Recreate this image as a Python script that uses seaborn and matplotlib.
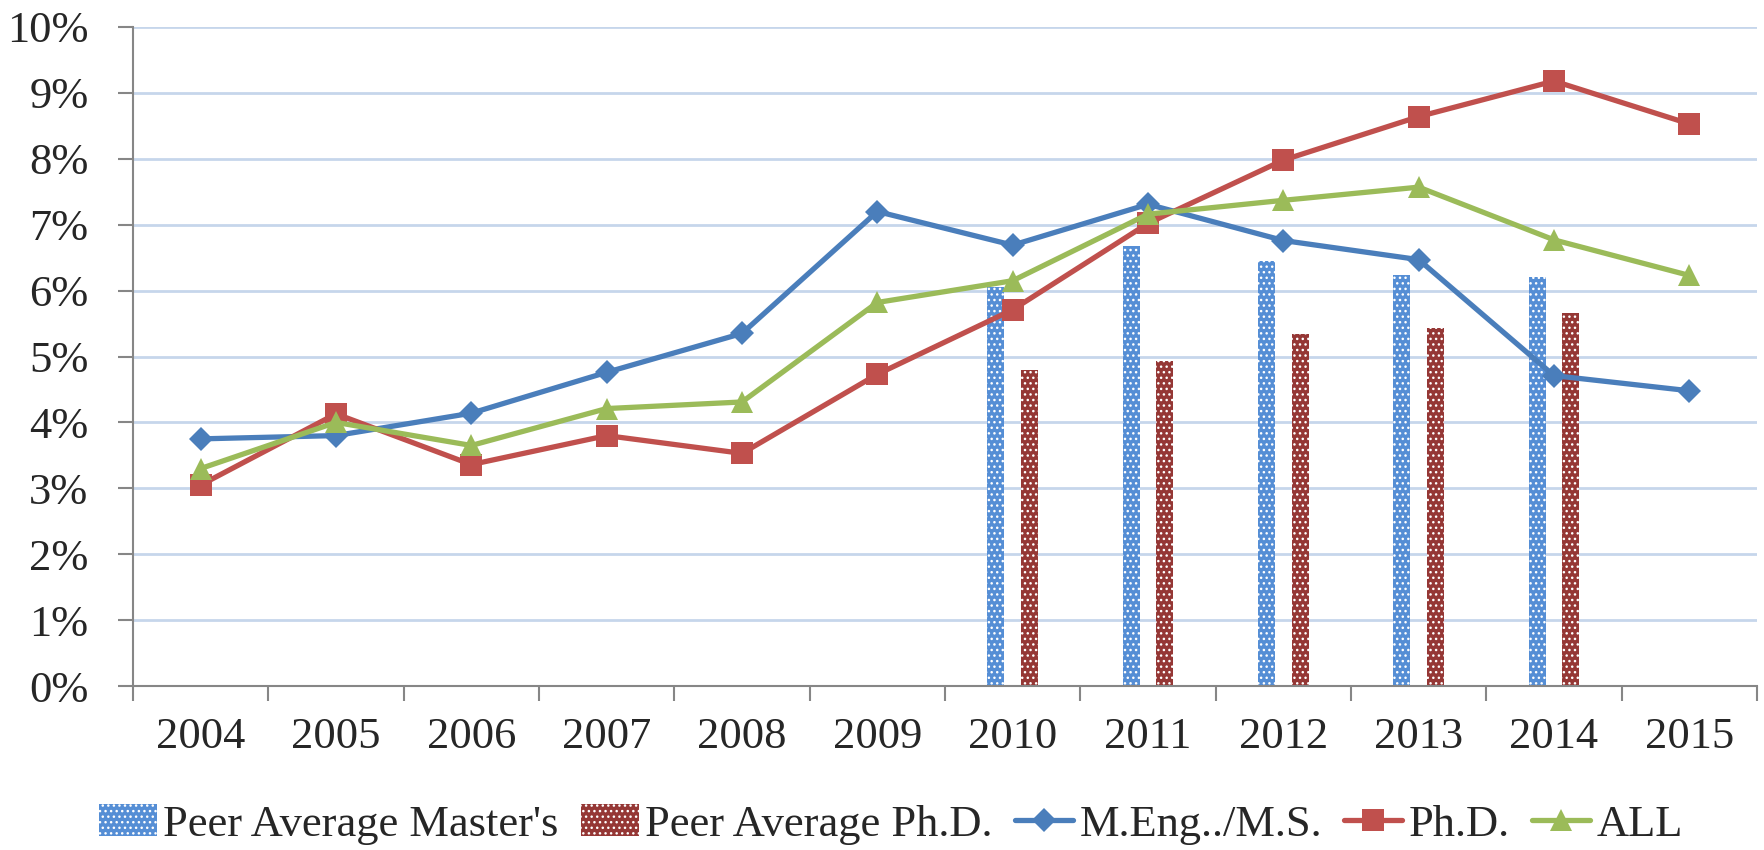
import numpy as np
import pandas as pd
import matplotlib
matplotlib.use("Agg")
import matplotlib.pyplot as plt
import seaborn as sns
from matplotlib.patches import Patch
from matplotlib.lines import Line2D

# ---------------- data ----------------
years = ['2004', '2005', '2006', '2007', '2008', '2009',
         '2010', '2011', '2012', '2013', '2014', '2015']
meng = [3.75, 3.80, 4.14, 4.76, 5.35, 7.20, 6.69, 7.31, 6.76, 6.47, 4.71, 4.48]
phd = [3.05, 4.13, 3.36, 3.80, 3.53, 4.73, 5.71, 7.02, 7.98, 8.64, 9.18, 8.53]
all_ = [3.30, 4.00, 3.65, 4.21, 4.31, 5.82, 6.15, 7.16, 7.37, 7.57, 6.77, 6.23]
peer_years = ['2010', '2011', '2012', '2013', '2014']
peer_masters = [6.06, 6.67, 6.45, 6.24, 6.21]
peer_phd = [4.80, 4.93, 5.34, 5.44, 5.66]
yticks = [0, 1, 2, 3, 4, 5, 6, 7, 8, 9, 10]

bar_names = ["Peer Average Master's", "Peer Average Ph.D."]
line_names = ["M.Eng../M.S.", "Ph.D.", "ALL"]

# ---------------- style ----------------
c_bar_m = '#558ED5'
c_bar_p = '#953735'
c_meng = '#4A7EBB'
c_phd = '#C0504D'
c_all = '#9BBB59'
axis_gray = '#868686'
grid_col = '#C6D6EB'

sns.set_style('white')
plt.rcParams['font.family'] = ['Liberation Serif', 'DejaVu Serif']
plt.rcParams['hatch.linewidth'] = 1.0

fig = plt.figure(figsize=(17.64, 8.5), dpi=100)
ax = fig.add_axes([133 / 1764, 1 - 686 / 850, (1757 - 133) / 1764, (686 - 27) / 850])

bar_df = pd.DataFrame({
    'Year': peer_years * 2,
    'Value': peer_masters + peer_phd,
    'Series': [bar_names[0]] * len(peer_years) + [bar_names[1]] * len(peer_years),
})
sns.barplot(data=bar_df, x='Year', y='Value', hue='Series', order=years,
            hue_order=bar_names, palette=[c_bar_m, c_bar_p], width=0.5, gap=0.5,
            dodge=True, errorbar=None, saturation=1, legend=False, ax=ax)
for p in ax.patches:
    p.set_hatch('...')
    p.set_edgecolor('white')
    p.set_linewidth(0)

line_specs = [(meng, c_meng, 'D', 12.5), (phd, c_phd, 's', 16.5), (all_, c_all, '^', 16)]
for vals, col, mk, ms in line_specs:
    sns.pointplot(x=years, y=vals, order=years, color=col, markers=mk,
                  errorbar=None, ax=ax, linewidth=3.8, markersize=ms,
                  markeredgewidth=0, zorder=3)

ax.set_xlim(-0.5, len(years) - 0.5)
ax.set_ylim(0, 10)
ax.set_yticks(yticks, labels=[f'{v}%' for v in yticks])
ax.set_xticks(np.arange(len(years) + 1) - 0.5, labels=[])
ax.set_xticks(np.arange(len(years)), labels=years, minor=True)
ax.set_xlabel('')
ax.set_ylabel('')

ax.tick_params(axis='y', which='major', length=11, width=1.5, color=axis_gray,
               pad=21, labelsize=32, direction='out', left=True)
ax.tick_params(axis='x', which='major', length=11, width=1.5, color=axis_gray,
               direction='out', bottom=True)
ax.tick_params(axis='x', which='minor', length=0, pad=22, labelsize=32)

ax.set_axisbelow(True)
ax.yaxis.grid(True, color=grid_col, linewidth=2)
ax.xaxis.grid(False)
for s in ['top', 'right']:
    ax.spines[s].set_visible(False)
for s in ['left', 'bottom']:
    ax.spines[s].set_color(axis_gray)
    ax.spines[s].set_linewidth(1.5)

handles = [
    Patch(facecolor=c_bar_m, edgecolor='white', hatch='...', linewidth=0),
    Patch(facecolor=c_bar_p, edgecolor='white', hatch='...', linewidth=0),
    Line2D([], [], color=c_meng, marker='D', markersize=12.5, linewidth=3.8, markeredgewidth=0),
    Line2D([], [], color=c_phd, marker='s', markersize=16.5, linewidth=3.8, markeredgewidth=0),
    Line2D([], [], color=c_all, marker='^', markersize=16, linewidth=3.8, markeredgewidth=0),
]
fig.legend(handles, bar_names + line_names, loc='center', bbox_to_anchor=(0.505, 0.03),
           ncol=5, frameon=False, fontsize=32, handlelength=1.3, handletextpad=0.15,
           columnspacing=0.5, borderaxespad=0)

fig.savefig('out.png', dpi=100)
